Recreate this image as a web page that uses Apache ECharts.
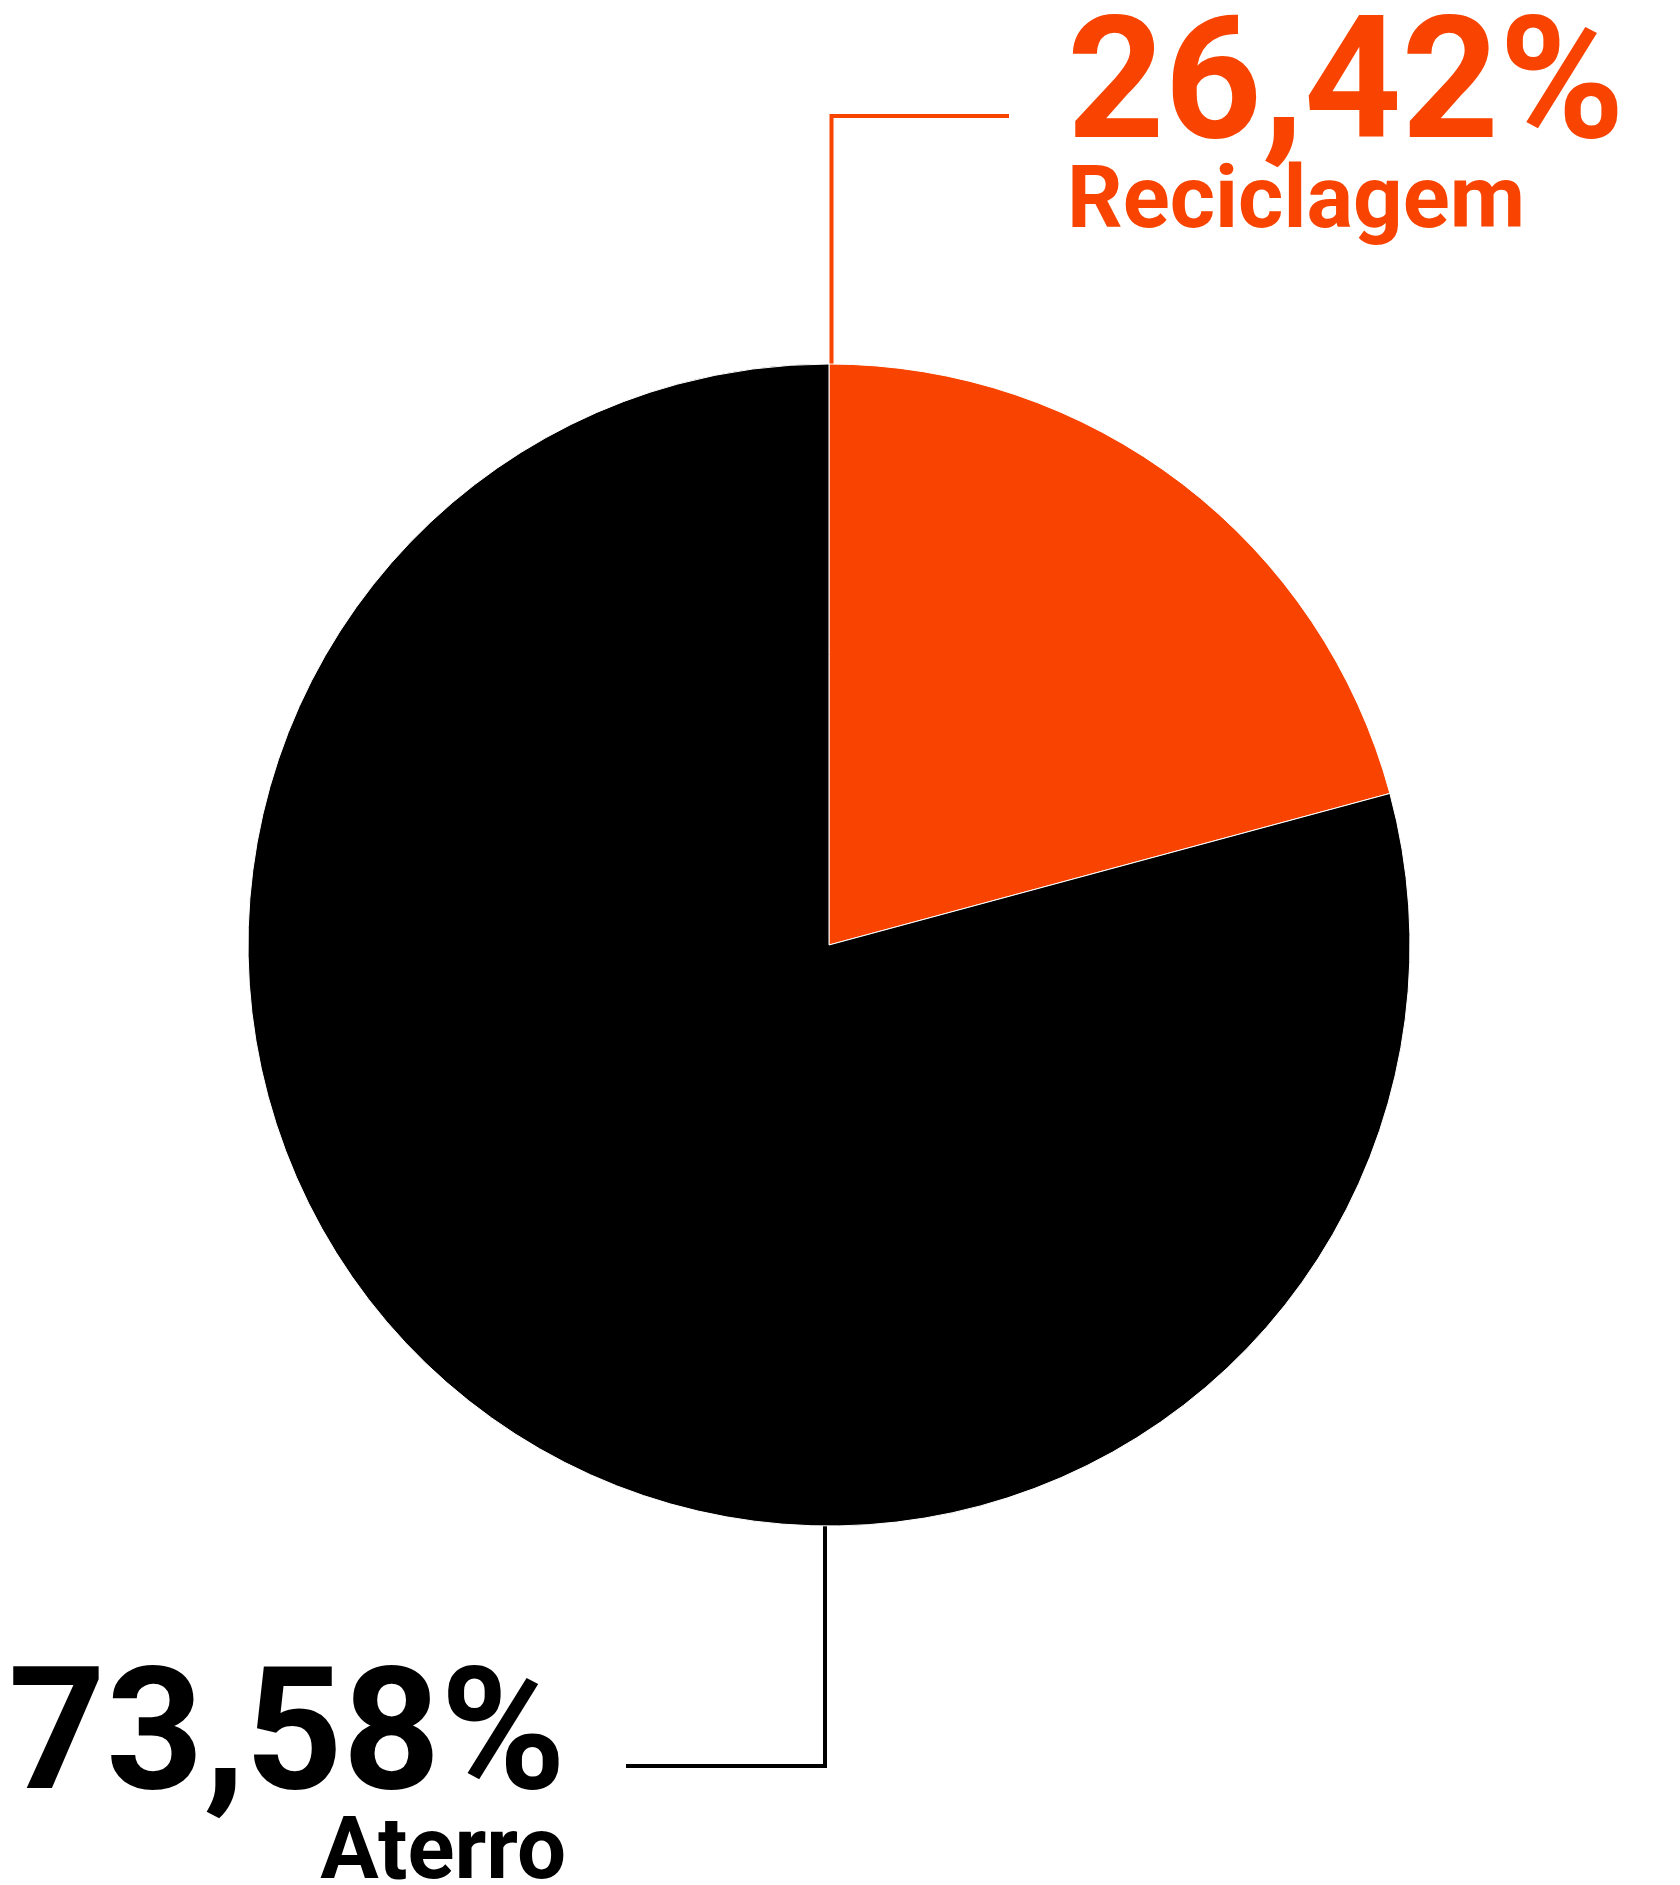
<!DOCTYPE html>
<html>
<head>
<meta charset="utf-8">
<script src="https://cdn.jsdelivr.net/npm/echarts@6/dist/echarts.min.js"></script>
<style>
  html, body { margin: 0; padding: 0; background: #ffffff; }
  #chart { width: 1680px; height: 1885px; }
</style>
</head>
<body>
<div id="chart"></div>
<script>
// Data
const categories = ['Reciclagem', 'Aterro'];
const percentLabels = ['26,42%', '73,58%'];
// slice shares as drawn in the reference picture
const sliceValues = [20.8, 79.2];
const sliceColors = ['#F84400', '#000000'];

const chart = echarts.init(document.getElementById('chart'), null, { renderer: 'canvas' });

const CX = 829, CY = 945, R = 581;
const FONT = 'Roboto';

const option = {
  backgroundColor: '#ffffff',
  animation: false,
  series: [{
    type: 'pie',
    center: [CX, CY],
    radius: [0, R],
    startAngle: 90,
    clockwise: true,
    avoidLabelOverlap: false,
    itemStyle: { borderColor: '#ffffff', borderWidth: 1 },
    data: categories.map((c, i) => ({
      name: c,
      value: sliceValues[i],
      itemStyle: { color: sliceColors[i] },
      label: { color: sliceColors[i] }
    })),
    label: {
      show: true,
      position: 'outside',
      fontFamily: FONT,
      formatter: p => '{p|' + percentLabels[p.dataIndex] + '}\n{n|' + p.name + '}',
      rich: {
        p: { fontSize: 170, fontWeight: 'bold', lineHeight: 134, fontFamily: FONT },
        n: { fontSize: 87, fontWeight: 'bold', lineHeight: 89, fontFamily: FONT }
      }
    },
    labelLine: { show: true, length: 10, length2: 10, lineStyle: { width: 4 } },
    labelLayout: function (params) {
      if (params.dataIndex === 0) {
        return {
          x: 1067, y: 27, align: 'left', verticalAlign: 'top',
          labelLinePoints: [[831.5, CY - R + 2], [831.5, 116], [1009, 116]]
        };
      }
      return {
        x: 566, y: 1678, align: 'right', verticalAlign: 'top',
        labelLinePoints: [[825, CY + R - 2], [825, 1766], [626, 1766]]
      };
    }
  }]
};
chart.setOption(option);
</script>
</body>
</html>
